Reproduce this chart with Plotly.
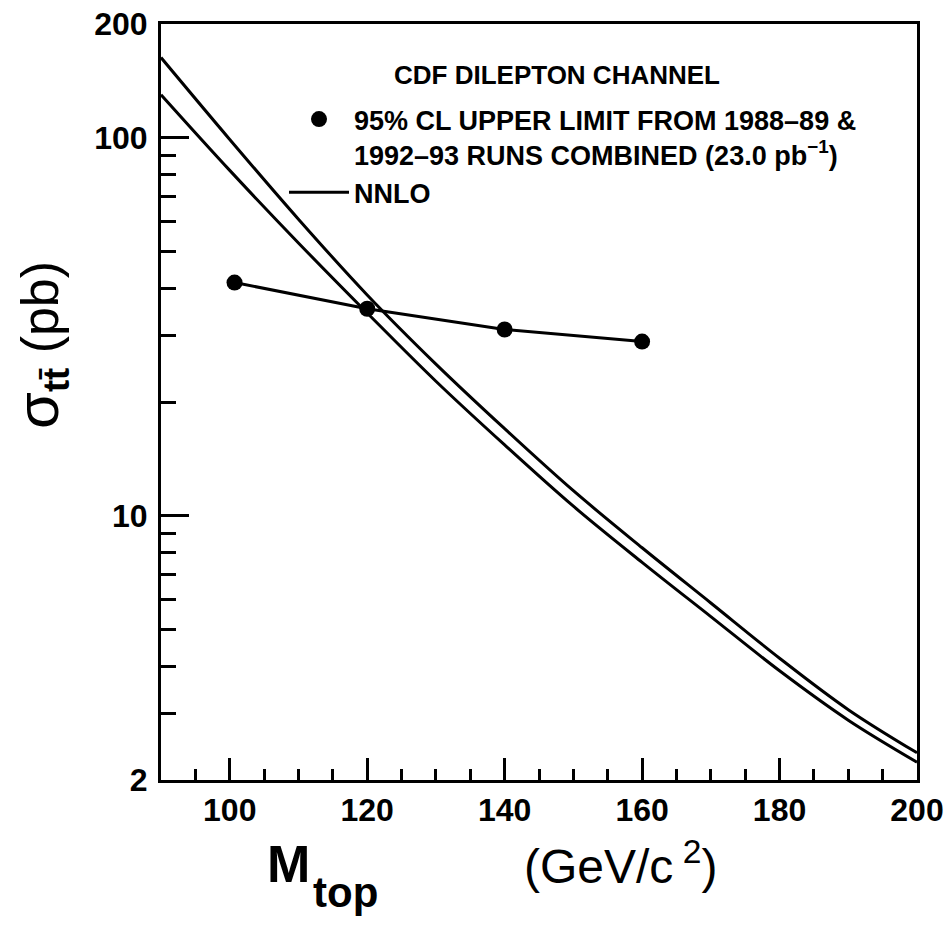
import math
import plotly.graph_objects as go

# Top-quark mass grid for the NNLO prediction band (GeV/c^2)
mass_theory = [90, 100, 110, 120, 130, 140, 150, 160, 170, 180, 190, 200]
# Upper and lower edges of the NNLO cross-section prediction (pb)
nnlo_upper = [163, 99.0, 60.9, 38.4, 25.2, 17.0, 11.65, 8.23, 5.88, 4.2, 3.07, 2.36]
nnlo_lower = [130, 82.0, 52.7, 34.4, 22.7, 15.4, 10.6, 7.53, 5.41, 3.89, 2.88, 2.23]

# 95% CL upper limits from the dilepton channel
mass_limit = [100.7, 120, 140, 160]
sigma_limit = [41.4, 35.3, 31.1, 28.9]

# Axis tick values and labels
x_major = [100, 120, 140, 160, 180, 200]
x_minor = [95, 105, 110, 115, 125, 130, 135, 145, 150, 155, 165, 170, 175, 185, 190, 195]
y_major = [2, 10, 100, 200]
y_major_text = ["2", "10", "100", "200"]
y_minor = [3, 4, 5, 6, 7, 8, 9, 20, 30, 40, 50, 60, 70, 80, 90]

FONT = "Liberation Sans, Arial, sans-serif"
BLACK = "#000000"
NB = "\u00a0"

fig = go.Figure()

# Limit points joined by a line
fig.add_trace(go.Scatter(
    x=mass_limit, y=sigma_limit, mode="lines",
    line=dict(color=BLACK, width=3), showlegend=False, hoverinfo="skip",
))
fig.add_trace(go.Scatter(
    x=mass_limit, y=sigma_limit, mode="markers",
    marker=dict(color=BLACK, size=16),
    name="95% CL UPPER LIMIT FROM 1988\u201389 &<br>1992\u201393 RUNS COMBINED (23.0 pb<sup>\u22121</sup>)",
    legendrank=1,
))

# NNLO prediction band edges
fig.add_trace(go.Scatter(
    x=mass_theory, y=nnlo_upper, mode="lines", line_shape="spline",
    line=dict(color=BLACK, width=3), name="NNLO", legendgroup="nnlo",
    legendrank=2,
))
fig.add_trace(go.Scatter(
    x=mass_theory, y=nnlo_lower, mode="lines", line_shape="spline",
    line=dict(color=BLACK, width=3), name="NNLO", legendgroup="nnlo",
    showlegend=False,
))

plot_l, plot_r, plot_t, plot_b = 161, 917, 24, 780
W, H = 950, 931


def px_x(px):
    return (px - plot_l) / (plot_r - plot_l)


def px_y(py):
    return (plot_b - py) / (plot_b - plot_t)


fig.update_layout(
    width=W, height=H,
    margin=dict(l=plot_l, r=W - plot_r, t=plot_t, b=H - plot_b, autoexpand=False),
    paper_bgcolor="white", plot_bgcolor="white",
    font=dict(family=FONT, color=BLACK, size=26, weight="bold"),
    showlegend=True,
    legend=dict(
        x=0.1627, y=0.906, xanchor="left", yanchor="top",
        bgcolor="rgba(0,0,0,0)", borderwidth=0,
        font=dict(size=27, family=FONT, weight="bold"),
        valign="top", itemwidth=60, traceorder="normal", tracegroupgap=0,
    ),
)

fig.update_xaxes(
    range=[90, 200], showgrid=False, zeroline=False,
    showline=True, linecolor=BLACK, linewidth=3, mirror=True,
    tickmode="array", tickvals=x_major, ticktext=[str(v) for v in x_major],
    ticks="inside", ticklen=22, tickwidth=3, tickcolor=BLACK,
    tickfont=dict(size=32, family=FONT, weight="bold"),
    minor=dict(tickmode="array", tickvals=x_minor, ticks="inside",
               ticklen=11, tickwidth=3, tickcolor=BLACK, showgrid=False),
)
fig.update_yaxes(
    type="log", range=[math.log10(2), math.log10(200)],
    showgrid=False, zeroline=False,
    showline=True, linecolor=BLACK, linewidth=3, mirror=True,
    tickmode="array", tickvals=y_major, ticktext=y_major_text,
    ticks="inside", ticklen=28, tickwidth=3, tickcolor=BLACK,
    ticklabelstandoff=4,
    tickfont=dict(size=32, family=FONT, weight="bold"),
    minor=dict(tickmode="array", tickvals=y_minor, ticks="inside",
               ticklen=15, tickwidth=3, tickcolor=BLACK, showgrid=False),
)

# Legend heading
fig.add_annotation(
    text="CDF DILEPTON CHANNEL",
    xref="paper", yref="paper", x=0.3056, y=0.9325,
    xanchor="left", yanchor="middle", showarrow=False,
    font=dict(size=26, family=FONT, weight="bold"),
)

# x-axis title: M with a lowered "top" subscript, then the unit
fig.add_annotation(
    text="M",
    xref="paper", yref="paper", x=px_x(265), y=px_y(864),
    xanchor="left", yanchor="middle", showarrow=False,
    font=dict(size=52, family=FONT, weight="bold"),
)
fig.add_annotation(
    text="top",
    xref="paper", yref="paper", x=px_x(311), y=px_y(892),
    xanchor="left", yanchor="middle", showarrow=False,
    font=dict(size=42, family=FONT, weight="bold"),
)
fig.add_annotation(
    text="(GeV/c<sup>" + NB + "2</sup>)",
    xref="paper", yref="paper", x=px_x(620), y=-0.11,
    xanchor="center", yanchor="middle", showarrow=False,
    font=dict(size=48, family=FONT, weight="normal"),
)

# y-axis title
fig.add_annotation(
    text="<span style='font-size:60px'>\u03c3</span><sub><b>tt\u0304</b></sub>" + NB + "(pb)",
    xref="paper", yref="paper", x=-0.159, y=0.575,
    xanchor="center", yanchor="middle", textangle=-90, showarrow=False,
    font=dict(size=52, family=FONT, weight="normal"),
)

fig.write_html("out.html")
